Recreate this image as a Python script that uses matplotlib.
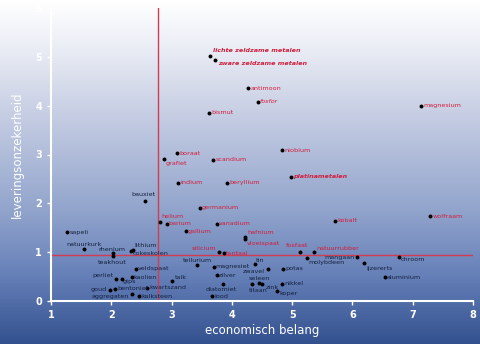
import matplotlib
matplotlib.use('Agg')
import matplotlib.pyplot as plt
import numpy as np
from matplotlib.colors import LinearSegmentedColormap

# data
names = [
    'lichte zeldzame metalen', 'zware zeldzame metalen', 'antimoon', 'fosfor', 'bismut',
    'magnesium', 'boraat', 'grafiet', 'scandium', 'niobium', 'indium', 'beryllium',
    'platinametalen', 'germanium', 'bauxiet', 'kobalt', 'wolfraam', 'helium', 'barium',
    'gallium', 'vanadium', 'hafnium', 'vloeispaat', 'silicium', 'tantaal', 'fosfaat',
    'natuurrubber', 'molybdeen', 'mangaan', 'chroom', 'ijzererts', 'aluminium', 'sapeli',
    'natuurkurk', 'rhenium', 'teakhout', 'lithium', 'cokeskolen', 'veldspaat', 'perliet',
    'gips', 'kaolien', 'talk', 'goud', 'bentoniet', 'kwartszand', 'aggregaten',
    'kalksteen', 'tellurium', 'magnesiet', 'zilver', 'diatomiet', 'lood', 'tin', 'zwavel',
    'seleen', 'zink', 'titaan', 'potas', 'nikkel', 'koper',
]
economic = [
    3.64, 3.72, 4.27, 4.43, 3.62,
    7.14, 3.09, 2.87, 3.69, 4.83, 3.11, 3.92,
    4.98, 3.47, 2.56, 5.71, 7.29, 2.81, 2.92,
    3.24, 3.75, 4.22, 4.22, 3.79, 3.87, 5.13,
    5.36, 5.25, 6.07, 6.77, 6.19, 6.54, 1.27,
    1.55, 2.03, 2.03, 2.33, 2.36, 2.41, 2.08,
    2.18, 2.34, 3.01, 1.98, 2.06, 2.59, 2.34,
    2.46, 3.42, 3.70, 3.75, 3.85, 3.67, 4.38, 4.60,
    4.45, 4.50, 4.33, 4.85, 4.83, 4.75,
]
supply = [
    5.02, 4.94, 4.36, 4.08, 3.85,
    4.00, 3.03, 2.91, 2.89, 3.09, 2.42, 2.42,
    2.54, 1.91, 2.05, 1.64, 1.74, 1.62, 1.58,
    1.43, 1.58, 1.31, 1.27, 1.00, 0.98, 1.00,
    1.00, 0.88, 0.90, 0.90, 0.78, 0.49, 1.41,
    1.07, 0.98, 0.92, 1.02, 1.05, 0.66, 0.45,
    0.45, 0.49, 0.41, 0.23, 0.25, 0.27, 0.14,
    0.10, 0.74, 0.70, 0.53, 0.35, 0.10, 0.76, 0.66,
    0.37, 0.35, 0.35, 0.66, 0.35, 0.20,
]
econ_threshold = 2.77
supply_threshold = 0.95

x_ticks = [1, 2, 3, 4, 5, 6, 7, 8]
y_ticks = [0, 1, 2, 3, 4, 5, 6]

# label placement: (dx, dy) in points, horizontal alignment
label_pos = {
    'lichte zeldzame metalen': (2, 4, 'left'),
    'zware zeldzame metalen': (2, -2.5, 'left'),
    'grafiet': (1.5, -3, 'left'),
    'bauxiet': (-1.5, 4.5, 'center'),
    'helium': (1, 4, 'left'),
    'hafnium': (1.5, 3.5, 'left'),
    'vloeispaat': (1.5, -3.5, 'left'),
    'silicium': (-2, 2.5, 'right'),
    'fosfaat': (-2, 4.5, 'center'),
    'natuurrubber': (1.5, 3, 'left'),
    'molybdeen': (1, -3, 'left'),
    'mangaan': (-1.5, 0, 'right'),
    'chroom': (1.5, -2, 'left'),
    'ijzererts': (1.5, -4, 'left'),
    'natuurkurk': (0, 3, 'center'),
    'rhenium': (-1, 2.5, 'center'),
    'teakhout': (-1, -4.5, 'center'),
    'lithium': (2, 4, 'left'),
    'cokeskolen': (0, -2.5, 'left'),
    'perliet': (-2, 2.5, 'right'),
    'gips': (0.5, -2, 'left'),
    'talk': (2, 2.5, 'left'),
    'goud': (-2, 0.5, 'right'),
    'aggregaten': (-2, -2, 'right'),
    'tellurium': (0, 3.5, 'center'),
    'diatomiet': (-1, -4, 'center'),
    'tin': (1, 2.5, 'left'),
    'zwavel': (-2, -2, 'right'),
    'seleen': (0, 3, 'center'),
    'zink': (3, -2.5, 'left'),
    'titaan': (-2, -5, 'left'),
    'koper': (1.5, -1.5, 'left'),
}
label_style = {
    'lichte zeldzame metalen': ('italic', 'bold'),
    'zware zeldzame metalen': ('italic', 'bold'),
    'platinametalen': ('italic', 'bold'),
    'fosfor': ('italic', 'normal'),
}

RED = '#d21e3c'
DARK = '#14213d'

fig = plt.figure(figsize=(4.8, 3.44), dpi=100)

# gradient background over the whole figure
bg = fig.add_axes([0, 0, 1, 1], zorder=0)
bg_cmap = LinearSegmentedColormap.from_list(
    'bg', [(0.0, '#ffffff'), (0.12, '#eef0f7'), (0.35, '#c3cbe2'),
           (0.6, '#94a6cd'), (0.8, '#6680b8'), (1.0, '#33518f')])
grad = np.linspace(0, 1, 256)[:, None]
bg.imshow(grad, cmap=bg_cmap, aspect='auto', extent=[0, 1, 0, 1], origin='upper')
bg.set_axis_off()

ax = fig.add_axes([51 / 480, 43 / 344, 422 / 480, 293 / 344], zorder=1)
ax.set_facecolor('none')
ax.set_xlim(1, 8)
ax.set_ylim(0, 6)

ax.axvline(econ_threshold, color='#d23c50', lw=1.0, zorder=2)
ax.axhline(supply_threshold, color='#d23c50', lw=1.0, zorder=2)

ax.scatter(economic, supply, s=8, color='black', zorder=3, linewidths=0)

for name, ex, sy in zip(names, economic, supply):
    critical = ex > econ_threshold and sy > supply_threshold
    dx, dy, ha = label_pos.get(name, (1.5, 0, 'left'))
    style, weight = label_style.get(name, ('normal', 'normal'))
    ax.annotate(name, (ex, sy), xytext=(dx, dy), textcoords='offset points',
                ha=ha, va='center', fontsize=4.6, color=RED if critical else DARK,
                fontstyle=style, fontweight=weight, zorder=4)

for side in ['top', 'right']:
    ax.spines[side].set_visible(False)
for side in ['left', 'bottom']:
    ax.spines[side].set_color('white')
    ax.spines[side].set_linewidth(1.5)

ax.set_xticks(x_ticks)
ax.set_yticks(y_ticks)
ax.tick_params(colors='white', labelsize=7, length=3, width=1)
for lab in ax.get_xticklabels() + ax.get_yticklabels():
    lab.set_fontweight('bold')

ax.set_xlabel('economisch belang', color='white', fontsize=8.5, labelpad=3)
ax.set_ylabel('leveringsonzekerheid', color='white', fontsize=8.5, labelpad=8)

fig.savefig('out.png', dpi=100)
